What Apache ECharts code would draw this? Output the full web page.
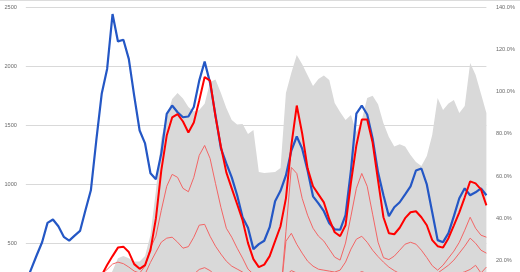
<!DOCTYPE html>
<html><head><meta charset="utf-8">
<script src="https://cdn.jsdelivr.net/npm/echarts@6/dist/echarts.min.js"></script>
<style>html,body{margin:0;padding:0;overflow:hidden;background:#fff;width:520px;height:272px}#c{width:520px;height:320px}</style>
</head><body><div id="c"></div>
<script>
// 86 weekly categories (labels not visible in the reference crop)
const categories = Array.from({length: 86}, (_, i) => 'W' + (i + 1));

const leftTicks = [0, 500, 1000, 1500, 2000, 2500];
const rightTicks = [0, 20, 40, 60, 80, 100, 120, 140];

const blueSeries = [170,285,400,510,674,703,646,556,524,566,606,781,950,1372,1767,1978,2443,2211,2225,2063,
1750,1457,1347,1094,1043,1263,1598,1668,1611,1569,1575,1655,1879,2040,1860,1585,1305,1178,1060,908,
722,633,452,494,523,638,857,946,1076,1287,1406,1303,1117,899,840,773,671,620,616,739,
1118,1600,1668,1592,1389,1102,908,731,807,849,916,984,1118,1135,1000,764,528,511,587,731,
883,967,908,933,967,908];

const redSeries = [40,55,70,85,100,110,115,110,105,100,105,115,130,170,232,317,393,465,473,427,
325,285,317,443,710,1119,1414,1567,1596,1533,1440,1525,1710,1909,1879,1575,1321,1102,967,832,
697,503,367,300,321,393,520,646,882,1330,1668,1431,1136,984,916,848,705,595,562,654,
1016,1330,1549,1549,1355,1034,722,587,578,633,714,764,773,722,654,528,477,465,545,654,
764,891,1026,1009,958,823];

const grayPct = [5,5,6,6,7,7,8,8,8,9,9,10,10,10,11,10,15,21,22,21,
19.5,19.5,22,32,53,78,88,96.5,99.4,96.8,92.7,90.6,91.3,94.2,104.6,105.8,99.4,92.3,86.6,84.4,
84.7,79.9,81.8,61.9,61.4,61.7,61.9,63.8,99.4,109,117.4,113,107.8,102.7,106,107.7,105.5,94.6,90.4,86.6,
88.9,80.9,86.6,97,98,94,85,78.5,74,75,74,70,66.6,64.7,69.5,79.4,97,91.3,94.4,96,
89.9,93.2,113.6,108,99,89.9];

const thinA = [40,50,60,70,80,90,100,110,120,140,160,180,200,220,240,280,325,342,329,300,
266,249,308,460,562,781,984,1085,1060,967,938,1060,1246,1330,1220,1009,806,629,553,460,
376,283,240,200,190,200,215,60,600,1144,1093,882,739,629,562,520,452,384,359,503,
731,967,1093,984,748,511,380,363,393,443,494,510,494,443,380,312,274,316,376,435,
510,612,722,629,570,553];

const thinB = [20,25,30,35,40,50,60,70,80,90,100,110,120,130,150,170,190,200,195,185,
175,180,240,340,426,511,545,553,511,460,473,553,655,662,561,477,410,350,308,283,
258,230,200,180,170,175,190,60,519,586,493,418,350,308,282,274,266,258,274,342,
452,536,561,510,443,389,342,300,270,245,240,245,245,235,225,220,249,282,316,359,
418,477,545,502,443,418];

const thinC = [10,12,15,18,20,25,30,35,40,45,50,55,60,70,80,90,100,105,100,95,
90,95,120,150,180,210,230,235,225,210,215,240,280,295,270,230,200,170,150,130,
110,100,90,80,75,80,90,40,230,270,250,220,190,170,150,140,130,120,125,160,
200,240,262,245,210,180,160,145,140,150,165,180,190,185,170,150,140,160,190,220,
245,260,280,315,250,300];

const chart = echarts.init(document.getElementById('c'), null, {renderer: 'canvas'});
const lab = {fontSize: 5.6, color: '#6b6b6b', fontFamily: 'Liberation Sans'};
chart.setOption({
  animation: false,
  backgroundColor: '#fff',
  grid: {left: 25.85, right: 33.6, top: 7.3, bottom: 17.5, containLabel: false, outerBoundsMode: 'none'},
  graphic: [{type: 'line', shape: {x1: 0, y1: 0.5, x2: 520, y2: 0.5}, style: {stroke: '#dcdcdc', lineWidth: 1}}],
  xAxis: {type: 'category', data: categories, boundaryGap: false, show: false},
  yAxis: [
    {type: 'value', position: 'left', min: leftTicks[0], max: leftTicks[leftTicks.length - 1], interval: 500,
     axisLine: {show: false}, axisTick: {show: false},
     axisLabel: Object.assign({margin: 9, formatter: v => String(v)}, lab),
     splitLine: {lineStyle: {color: '#d9d9d9', width: 1}}},
    {type: 'value', position: 'right', min: rightTicks[0], max: rightTicks[rightTicks.length - 1], interval: 20,
     axisLine: {show: false}, axisTick: {show: false},
     axisLabel: Object.assign({margin: 9.5, formatter: v => v.toFixed(1) + '%'}, lab),
     splitLine: {show: false}}
  ],
  series: [
    {name: 'share', type: 'line', yAxisIndex: 1, data: grayPct, symbol: 'none', z: 1,
     lineStyle: {width: 0, color: '#d9d9d9'}, areaStyle: {color: '#d9d9d9', opacity: 1}},
    {name: 'C', type: 'line', data: thinC, symbol: 'none', z: 2, lineStyle: {width: 1, color: '#f26565'}},
    {name: 'B', type: 'line', data: thinB, symbol: 'none', z: 2, lineStyle: {width: 1, color: '#f26565'}},
    {name: 'A', type: 'line', data: thinA, symbol: 'none', z: 2, lineStyle: {width: 1, color: '#f26565'}},
    {name: 'blue', type: 'line', data: blueSeries, symbol: 'none', z: 3, lineStyle: {width: 2.2, color: '#2457c5'}},
    {name: 'red', type: 'line', data: redSeries, symbol: 'none', z: 4, lineStyle: {width: 2, color: '#ff0000'}}
  ]
});
</script></body></html>
